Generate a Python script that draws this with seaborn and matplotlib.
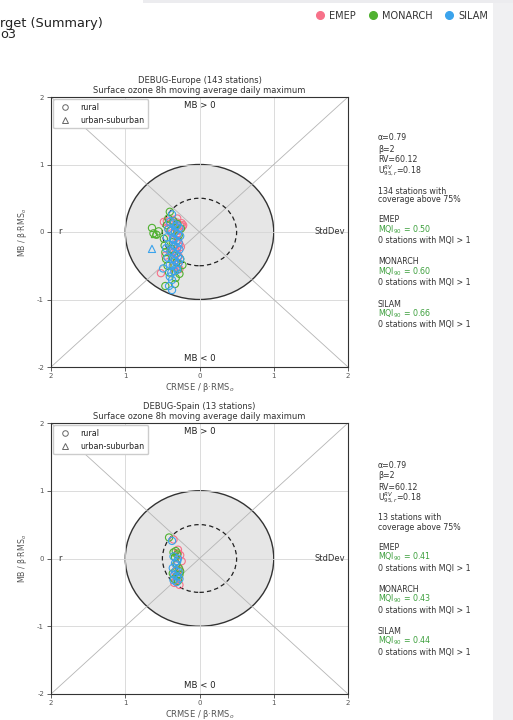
import matplotlib
matplotlib.use("Agg")
import matplotlib.pyplot as plt
from matplotlib.patches import Ellipse, Rectangle
from matplotlib.lines import Line2D
import pandas as pd
import seaborn as sns

# ---------------------------------------------------------------- data
models = ["EMEP", "MONARCH", "SILAM"]
site_types = ["rural", "urban-suburban"]

# Europe: normalised CRMSE (x, signed) and MB (y) per station
emep_eu_x = [-0.44, -0.40, -0.36, -0.30, -0.26, -0.23, -0.42, -0.33, -0.28, -0.38,
             -0.31, -0.35, -0.29, -0.27, -0.34, -0.37, -0.32, -0.30, -0.28, -0.36,
             -0.33, -0.31, -0.29, -0.35, -0.52, -0.27, -0.40, -0.25, -0.33, -0.30,
             -0.48, -0.22, -0.46, -0.24]
emep_eu_y = [0.16, 0.12, 0.18, 0.14, 0.10, 0.08, 0.05, 0.06, 0.02, -0.02,
             -0.05, -0.10, -0.12, -0.18, -0.20, -0.25, -0.28, -0.32, -0.36, -0.38,
             -0.42, -0.45, -0.48, -0.52, -0.61, -0.55, -0.30, -0.22, -0.58, 0.20,
             0.15, 0.10, -0.35, 0.13]
emep_eu_t = ["rural"] * 34

monarch_eu_x = [-0.64, -0.62, -0.58, -0.55, -0.60, -0.40, -0.48, -0.47, -0.46, -0.45,
                -0.46, -0.33, -0.27, -0.26, -0.23, -0.44, -0.42, -0.30, -0.28, -0.36,
                -0.38, -0.34, -0.31, -0.29, -0.43, -0.25, -0.41, -0.35, -0.32, -0.39]
monarch_eu_y = [0.06, -0.02, -0.04, 0.01, -0.03, 0.30, -0.10, -0.20, -0.30, -0.40,
                -0.80, -0.77, -0.62, -0.40, -0.49, 0.10, 0.20, 0.12, -0.05, -0.15,
                -0.25, -0.35, -0.45, -0.55, -0.50, 0.05, -0.60, 0.16, -0.68, 0.02]
monarch_eu_t = ["rural"] * 4 + ["urban-suburban"] + ["rural"] * 25

silam_eu_x = [-0.64, -0.37, -0.40, -0.35, -0.30, -0.27, -0.42, -0.38, -0.33, -0.29,
              -0.26, -0.44, -0.36, -0.31, -0.28, -0.41, -0.34, -0.30, -0.27, -0.39,
              -0.35, -0.32, -0.29, -0.43, -0.37, -0.33, -0.28, -0.40, -0.36, -0.31,
              -0.49, -0.40, -0.37, -0.41, -0.37, -0.34, -0.30, -0.38, -0.32, -0.35,
              -0.45, -0.26]
silam_eu_y = [-0.25, 0.26, 0.15, 0.13, 0.10, 0.06, 0.04, 0.02, 0.00, -0.03,
              -0.06, -0.08, -0.10, -0.13, -0.16, -0.18, -0.20, -0.23, -0.26, -0.28,
              -0.30, -0.33, -0.36, -0.38, -0.40, -0.43, -0.46, -0.48, -0.50, -0.53,
              -0.54, -0.66, -0.71, -0.80, -0.86, -0.58, -0.56, -0.60, 0.08, -0.12,
              -0.24, -0.40]
silam_eu_t = ["urban-suburban"] + ["rural"] * 41

# Spain
emep_es_x = [-0.35, -0.29, -0.26, -0.24, -0.31, -0.27, -0.33, -0.30, -0.28, -0.32, -0.27, -0.29, -0.34]
emep_es_y = [0.28, 0.13, 0.05, -0.04, -0.10, -0.16, -0.20, -0.24, -0.28, -0.33, -0.39, 0.08, -0.36]
monarch_es_x = [-0.41, -0.35, -0.30, -0.26, -0.33, -0.31, -0.28, -0.36, -0.30, -0.34, -0.29, -0.32, -0.27]
monarch_es_y = [0.31, 0.09, 0.06, -0.19, 0.02, -0.08, -0.14, -0.22, -0.26, -0.30, -0.33, 0.11, -0.24]
silam_es_x = [-0.37, -0.35, -0.33, -0.30, -0.36, -0.32, -0.28, -0.34, -0.30, -0.27, -0.35, -0.31, -0.29]
silam_es_y = [0.26, 0.03, -0.07, -0.04, -0.14, -0.18, -0.20, -0.24, -0.27, -0.30, -0.32, -0.35, 0.00]
es_t = ["rural"] * 13

# summary statistics
alpha_val, beta_val, rv_val, u_val = "0.79", "2", "60.12", "0.18"
eu_title = "DEBUG-Europe (143 stations)"
es_title = "DEBUG-Spain (13 stations)"
variable_name = "Surface ozone 8h moving average daily maximum"
eu_coverage = 134
es_coverage = 13
eu_mqi = [0.50, 0.60, 0.66]
es_mqi = [0.41, 0.43, 0.44]
eu_exceed = [0, 0, 0]
es_exceed = [0, 0, 0]

x_ticks = [-2, -1, 0, 1, 2]
x_ticklabels = ["2", "1", "0", "1", "2"]
y_ticks = [-2, -1, 0, 1, 2]
y_ticklabels = ["-2", "-1", "0", "1", "2"]


def frame(xs, ys, ts):
    rows = []
    for m, x, y, t in zip(models, xs, ys, ts):
        rows.append(pd.DataFrame({"x": x, "y": y, "site": t, "model": m}))
    return pd.concat(rows, ignore_index=True)


df_eu = frame([emep_eu_x, monarch_eu_x, silam_eu_x],
              [emep_eu_y, monarch_eu_y, silam_eu_y],
              [emep_eu_t, monarch_eu_t, silam_eu_t])
df_es = frame([emep_es_x, monarch_es_x, silam_es_x],
              [emep_es_y, monarch_es_y, silam_es_y],
              [es_t, es_t, es_t])

# ---------------------------------------------------------------- style
sns.set_theme(style="white")
plt.rcParams["font.family"] = ["DejaVu Sans"]
palette = dict(zip(models, sns.color_palette("husl", 3)))
TXT = "#333333"
GREEN = "#3c9f3c"

W, H = 513, 720
fig = plt.figure(figsize=(W / 100, H / 100), dpi=100)
fig.patch.set_facecolor("white")

# page chrome: scrollbar strip and top band
fig.patches.append(Rectangle((493 / W, 0), 20 / W, 1 - 3 / H, transform=fig.transFigure,
                             facecolor="#f0f0f2", edgecolor="none", zorder=0))
fig.patches.append(Rectangle((143 / W, 1 - 3 / H), (W - 143) / W, 3 / H, transform=fig.transFigure,
                             facecolor="#ececef", edgecolor="none", zorder=0))

fig.text(0, 1 - 23 / H, "rget (Summary)", fontsize=9.3, color="#222222", va="center", ha="left")
fig.text(0, 1 - 35 / H, "o3", fontsize=9.3, color="#222222", va="center", ha="left")

model_handles = [Line2D([], [], marker="o", ls="", color=palette[m], ms=5.5, label=m) for m in models]
fig.legend(handles=model_handles, loc="upper right", bbox_to_anchor=(497 / W, 1 - 2 / H), ncol=3,
           frameon=False, fontsize=7, handletextpad=0.45, columnspacing=1.2, handlelength=1.0,
           labelcolor="#333333")


def draw_panel(ax, df, title):
    ax.set_xlim(-2, 2)
    ax.set_ylim(-2, 2)
    ax.add_patch(Ellipse((0, 0), 2, 2, facecolor="#e6e6e6", edgecolor="#333333", lw=1.0, zorder=0.5))
    for v in (-1, 0, 1):
        ax.axvline(v, color="#d6d6d6", lw=0.6, zorder=0.7)
        ax.axhline(v, color="#d6d6d6", lw=0.6, zorder=0.7)
    ax.plot([-2, 2], [-2, 2], color="#b5b5b5", lw=0.6, zorder=0.8)
    ax.plot([-2, 2], [2, -2], color="#b5b5b5", lw=0.6, zorder=0.8)
    ax.add_patch(Ellipse((0, 0), 1, 1, facecolor="none", edgecolor="#222222", lw=0.9,
                         ls=(0, (3.5, 2.5)), zorder=1))

    sns.scatterplot(data=df, x="x", y="y", hue="model", style="site", palette=palette,
                    hue_order=models, style_order=site_types,
                    markers={"rural": "o", "urban-suburban": "^"}, s=27, linewidth=0.8,
                    legend=False, ax=ax, zorder=3)
    coll = ax.collections[-1]
    cols = coll.get_facecolors()
    coll.set_edgecolors(cols)
    coll.set_facecolors("none")

    ax.text(0, 1.87, "MB > 0", ha="center", va="center", fontsize=6.2, color="#222222")
    ax.text(0, -1.87, "MB < 0", ha="center", va="center", fontsize=6.2, color="#222222")
    ax.text(-1.9, 0, "r", ha="left", va="center", fontsize=6, color=TXT)
    ax.text(1.76, 0, "StdDev", ha="center", va="center", fontsize=6, color=TXT)

    ax.set_xticks(x_ticks)
    ax.set_xticklabels(x_ticklabels)
    ax.set_yticks(y_ticks)
    ax.set_yticklabels(y_ticklabels)
    ax.tick_params(bottom=True, left=True, labelsize=5, length=3, width=0.6, color="#444444",
                   labelcolor="#555555", pad=2)
    ax.tick_params(axis="x", pad=1.5)
    for s in ax.spines.values():
        s.set_color("#333333")
        s.set_linewidth(0.8)
    ax.set_xlabel("CRMSE / β·RMS$_o$", fontsize=6, color="#555555", labelpad=1)
    ax.set_ylabel("MB / β·RMS$_o$", fontsize=5.6, color="#555555", labelpad=6)
    ax.set_title(title + "\n" + variable_name, fontsize=6, color=TXT, pad=3, linespacing=1.05)

    site_handles = [
        Line2D([], [], marker="o", ls="", mfc="none", mec="#666666", ms=4, mew=0.7, label="rural"),
        Line2D([], [], marker="^", ls="", mfc="none", mec="#666666", ms=4, mew=0.7, label="urban-suburban"),
    ]
    ax.legend(handles=site_handles, loc="upper left", fontsize=5.8, frameon=True, framealpha=1,
              edgecolor="#cccccc", borderpad=0.45, handletextpad=0.9, labelspacing=0.45,
              borderaxespad=0.3, labelcolor="#222222")


def side_text(top_px, coverage, mqi, exceed):
    lines = [
        ("α=" + alpha_val, TXT, 0),
        ("β=" + beta_val, TXT, 11),
        ("RV=" + rv_val, TXT, 22),
        ("U$_{95,r}^{RV}$=" + u_val, TXT, 33),
        (f"{coverage} stations with", TXT, 53),
        ("coverage above 75%", TXT, 62),
    ]
    base = 82
    for i, m in enumerate(models):
        off = base + i * 42
        lines.append((m, TXT, off))
        lines.append((f"MQI$_{{90}}$ = {mqi[i]:.2f}", GREEN, off + 10))
        lines.append((f"{exceed[i]} stations with MQI > 1", TXT, off + 21))
    for text, col, dy in lines:
        fig.text(378 / W, 1 - (top_px + dy) / H, text, fontsize=5.7, color=col, va="center", ha="left")


ax1 = fig.add_axes([51 / W, 1 - 367 / H, 297 / W, 270 / H])
draw_panel(ax1, df_eu, eu_title)
side_text(138, eu_coverage, eu_mqi, eu_exceed)

ax2 = fig.add_axes([51 / W, 1 - 694 / H, 297 / W, 271 / H])
draw_panel(ax2, df_es, es_title)
side_text(465, es_coverage, es_mqi, es_exceed)

fig.savefig("out.png", dpi=100, facecolor="white")
